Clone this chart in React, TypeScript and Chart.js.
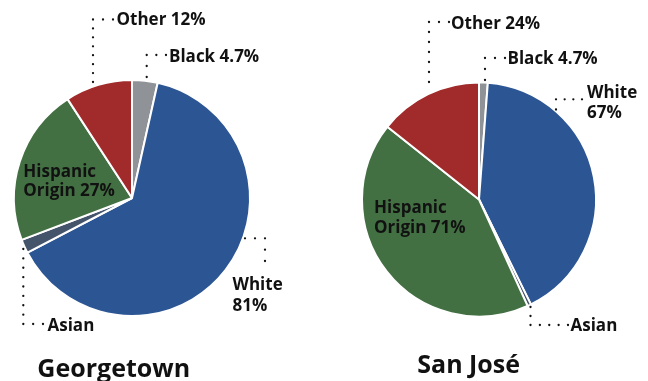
import React, { useEffect, useRef } from 'react';
import { Chart, registerables } from 'chart.js';

Chart.register(...registerables);

// ---- data ----
const categories = ['Black', 'White', 'Asian', 'Hispanic Origin', 'Other'];
const georgetownValues = [3.5, 63.9, 1.9, 21.6, 9.2];
const sanJoseValues = [1.2, 41.4, 0.5, 42.4, 14.3];
const georgetownLabels = ['Black 4.7%', 'White 81%', 'Asian', 'Hispanic Origin 27%', 'Other 12%'];
const sanJoseLabels = ['Black 4.7%', 'White 67%', 'Asian', 'Hispanic Origin 71%', 'Other 24%'];
const chartTitles = ['Georgetown', 'San José'];

// ---- style ----
const sliceColors = ['#8F9296', '#2C5593', '#44546A', '#437043', '#A02B2A'];
const FONT = '"Open Sans", "Noto Sans", sans-serif';

type LabelLayout = { lines: string[]; x: number; y: number[]; leader?: number[][] };

// annotation layout (page coordinates)
const georgetownLayout: LabelLayout[] = [
  { lines: ['Black 4.7%'], x: 169, y: [61.5], leader: [[146.7, 77], [146.7, 55], [166, 55]] },
  { lines: ['White', '81%'], x: 232.5, y: [290, 310.5], leader: [[245, 238.3], [265, 238.3], [265, 261]] },
  { lines: ['Asian'], x: 47.5, y: [330.5], leader: [[23.3, 249], [23.3, 324], [43, 324]] },
  { lines: ['Hispanic', 'Origin 27%'], x: 23.3, y: [176.7, 196.2] },
  { lines: ['Other 12%'], x: 116.5, y: [24.5], leader: [[93, 82], [93, 19.5], [113, 19.5]] },
];
const sanJoseLayout: LabelLayout[] = [
  { lines: ['Black 4.7%'], x: 507.5, y: [63.5], leader: [[485, 80], [485, 58], [505, 58]] },
  { lines: ['White', '67%'], x: 587, y: [97.5, 117.5], leader: [[556, 109.5], [556, 99.3], [582, 99.3]] },
  { lines: ['Asian'], x: 570.5, y: [330.5], leader: [[530.5, 307], [530.5, 325], [568, 325]] },
  { lines: ['Hispanic', 'Origin 71%'], x: 374, y: [213.3, 233.3] },
  { lines: ['Other 24%'], x: 451, y: [28.5], leader: [[429, 82], [429, 22], [449, 22]] },
];

type PieSpec = {
  left: number;
  values: number[];
  labels: string[];
  layout: LabelLayout[];
  title: string;
  titleX: number;
  titleY: number;
  radius: number;
  padding: { left: number; right: number; top: number; bottom: number };
};

const specs: PieSpec[] = [
  {
    left: 0,
    values: georgetownValues,
    labels: georgetownLabels,
    layout: georgetownLayout,
    title: chartTitles[0],
    titleX: 37.3,
    titleY: 376.5,
    radius: 118,
    padding: { left: 0, right: 60, top: 15, bottom: 0 },
  },
  {
    left: 324,
    values: sanJoseValues,
    labels: sanJoseLabels,
    layout: sanJoseLayout,
    title: chartTitles[1],
    titleX: 417.3,
    titleY: 372.5,
    radius: 117,
    padding: { left: 0, right: 14, top: 18, bottom: 0 },
  },
];

function drawDots(ctx: CanvasRenderingContext2D, pts: number[][], ox: number) {
  ctx.fillStyle = '#111';
  const spacing = 9.5;
  const done = new Set<string>();
  for (let s = 0; s < pts.length - 1; s++) {
    const [x1, y1] = pts[s];
    const [x2, y2] = pts[s + 1];
    const len = Math.hypot(x2 - x1, y2 - y1);
    const n = Math.max(1, Math.round(len / spacing));
    for (let i = 0; i <= n; i++) {
      const x = x1 + ((x2 - x1) * i) / n - ox;
      const y = y1 + ((y2 - y1) * i) / n;
      const key = x.toFixed(1) + ',' + y.toFixed(1);
      if (done.has(key)) continue;
      done.add(key);
      ctx.beginPath();
      ctx.arc(x, y, 1.15, 0, Math.PI * 2);
      ctx.fill();
    }
  }
}

function PieCanvas({ spec }: { spec: PieSpec }) {
  const ref = useRef<HTMLCanvasElement | null>(null);
  useEffect(() => {
    if (!ref.current) return;
    const annotate = {
      id: 'annotate',
      afterDraw(chart: any) {
        const ctx: CanvasRenderingContext2D = chart.ctx;
        ctx.save();
        spec.layout.forEach((l) => {
          if (l.leader) drawDots(ctx, l.leader, spec.left);
          ctx.fillStyle = '#111';
          ctx.font = `bold 17px ${FONT}`;
          ctx.textBaseline = 'alphabetic';
          ctx.textAlign = 'left';
          l.lines.forEach((line, i) => ctx.fillText(line, l.x - spec.left, l.y[i]));
        });
        ctx.font = `bold 25px ${FONT}`;
        ctx.fillStyle = '#111';
        ctx.fillText(spec.title, spec.titleX - spec.left, spec.titleY);
        ctx.restore();
      },
    };
    const chart = new Chart(ref.current, {
      type: 'pie',
      data: {
        labels: categories,
        datasets: [
          {
            data: spec.values,
            backgroundColor: sliceColors,
            borderColor: '#ffffff',
            borderWidth: 2,
            hoverOffset: 0,
            radius: spec.radius,
          } as any,
        ],
      },
      options: {
        responsive: false,
        animation: false,
        events: [],
        layout: { padding: spec.padding },
        plugins: {
          legend: { display: false },
          tooltip: { enabled: false },
          title: { display: false },
        },
      },
      plugins: [annotate],
    });
    return () => chart.destroy();
  }, [spec]);
  return (
    <canvas
      ref={ref}
      width={324}
      height={381}
      style={{ position: 'absolute', left: spec.left, top: 0, width: 324, height: 381 }}
    />
  );
}

export default function App() {
  return (
    <div
      style={{
        position: 'absolute',
        left: 0,
        top: 0,
        width: 648,
        height: 381,
        background: '#ffffff',
        overflow: 'hidden',
      }}
    >
      {specs.map((s) => (
        <PieCanvas key={s.title} spec={s} />
      ))}
    </div>
  );
}
